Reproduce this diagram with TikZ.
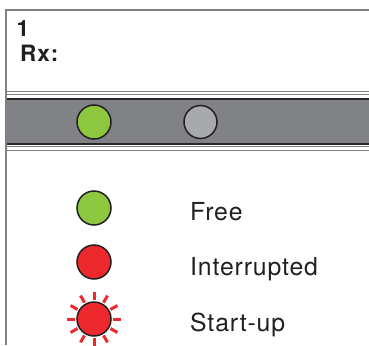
\documentclass[tikz,border=0pt]{standalone}
\usepackage{fontspec}
\setmainfont{TeX Gyre Heros}
\usepackage{tikz}

\definecolor{frame}{RGB}{128,128,128}
\definecolor{bandgray}{RGB}{128,130,133}
\definecolor{bandedge}{RGB}{40,38,40}
\definecolor{ledgreen}{RGB}{141,198,63}
\definecolor{ledred}{RGB}{237,41,46}
\definecolor{ledoff}{RGB}{167,169,172}
\definecolor{ink}{RGB}{35,31,32}

\begin{document}
\begin{tikzpicture}[x=1pt,y=-1pt,
    led/.style={circle,draw=ink,line width=1.5pt,minimum size=34pt,inner sep=0pt},
    legendtext/.style={anchor=base west,inner sep=0pt,text=ink,font=\fontsize{24.8}{29}\selectfont\addfontfeature{LetterSpace=3.5}},
    headtext/.style={anchor=base west,inner sep=0pt,text=ink,font=\bfseries\fontsize{22.5}{26}\selectfont\addfontfeature{LetterSpace=4}},
    ray/.style={ledred,line width=3pt}]
        \useasboundingbox (0,0) rectangle (369,345);
        \draw[frame,line width=1.5pt] (6,345) -- (6,10) -- (369,10);
        \node[headtext] (unit) at (16.5,37) {1};
        \node[headtext] (rx) at (20,61.7) {Rx:};
        \fill[bandgray] (6,99) rectangle (369,143.5);
        \draw[frame,line width=1pt] (6,91) -- (369,91);
        \draw[frame,line width=1pt] (6,94.3) -- (369,94.3);
        \draw[bandedge,line width=2pt] (6,99.2) -- (369,99.2);
        \draw[bandedge,line width=2pt] (6,143.5) -- (369,143.5);
        \draw[frame,line width=1pt] (6,146.8) -- (369,146.8);
        \draw[frame,line width=1pt] (6,150.1) -- (369,150.1);
        \draw[frame,line width=1.5pt] (6,88) -- (6,153);
        \node[led,fill=ledgreen] (bandon) at (94,122) {};
        \node[led,fill=ledoff,minimum size=33pt] (bandoff) at (200.5,122) {};
        \node[led,fill=ledgreen] (free) at (94,208) {};
        \node[led,fill=ledred] (interrupted) at (94,262) {};
        \node[led,fill=ledred] (startup) at (94,319) {};
        \foreach \a in {0,30,...,330}
            \draw[ray] (startup.center) ++(\a:19pt) -- ++(\a:8pt);
        \node[legendtext] (freetext) at (190,220) {Free};
        \node[legendtext] (interruptedtext) at (190,275) {Interrupted};
        \node[legendtext] (startuptext) at (190,331) {Start-up};
    \end{tikzpicture}
\end{document}
